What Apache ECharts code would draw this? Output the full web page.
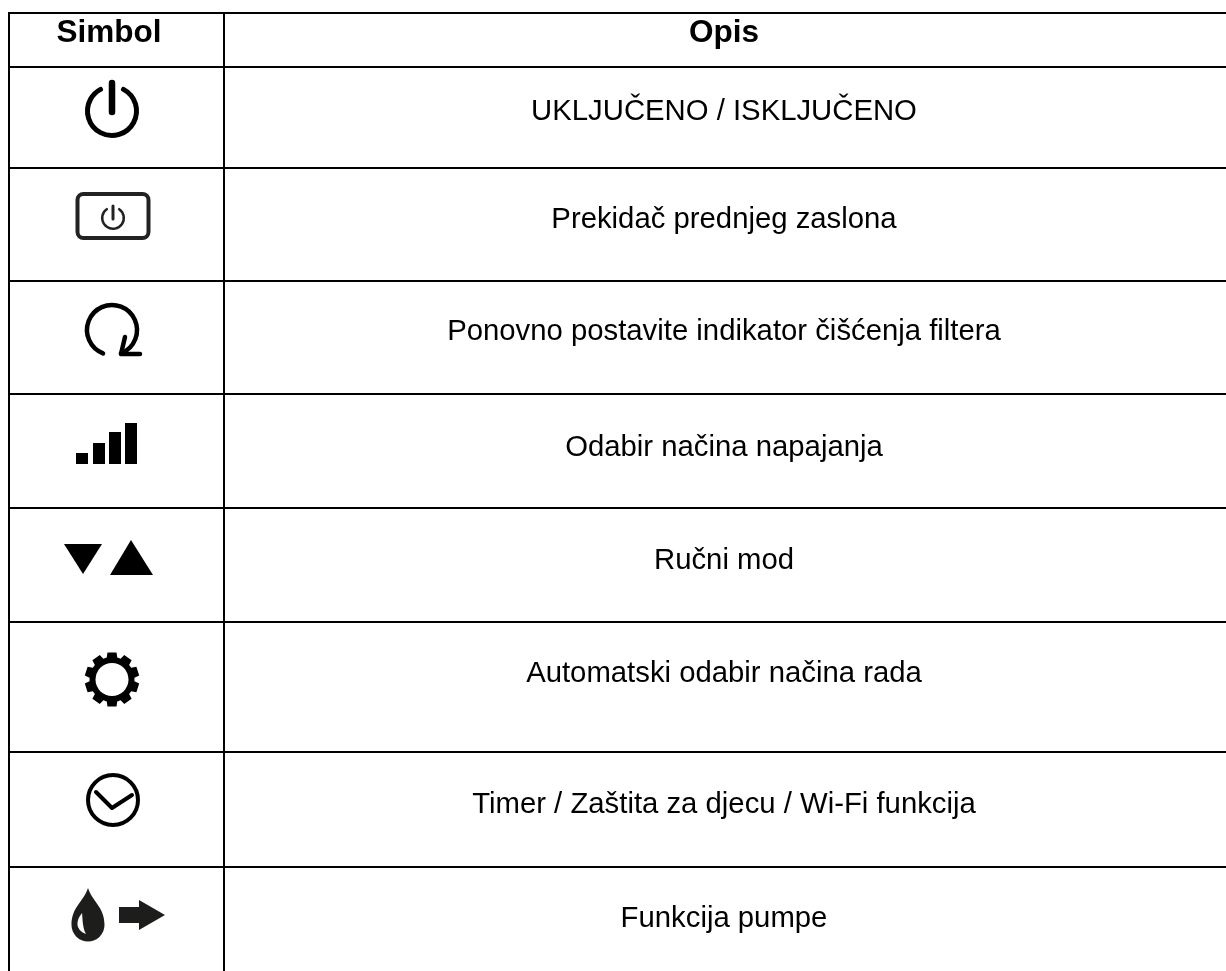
<!DOCTYPE html>
<html>
<head>
<meta charset="utf-8">
<style>
  html, body { margin: 0; padding: 0; background: #fff; }
  #main { width: 1226px; height: 971px; }
</style>
<script src="https://cdn.jsdelivr.net/npm/echarts@6/dist/echarts.min.js"></script>
</head>
<body>
<div id="main"></div>
<script>
// table content
var headers = ['Simbol', 'Opis'];
var symbols = ['power', 'panel', 'reset', 'signal', 'arrows', 'gear', 'clock', 'pump'];
var descriptions = [
  'UKLJUČENO / ISKLJUČENO',
  'Prekidač prednjeg zaslona',
  'Ponovno postavite indikator čišćenja filtera',
  'Odabir načina napajanja',
  'Ručni mod',
  'Automatski odabir načina rada',
  'Timer / Zaštita za djecu / Wi-Fi funkcija',
  'Funkcija pumpe'
];

// table layout, in axis units (one unit is one pixel)
var W = 1226, H = 971;
var ruleY = [13, 67, 168, 281, 394, 508, 622, 752, 867];
var ruleX = [9, 224];
var headerY = 33;
var textY = [112, 220, 332, 448, 561, 674, 805, 919];
var iconPos = [[112, 111], [113, 216], [112, 330], [112, 464], [112, 559], [112, 679.5], [113, 800], [88, 915]];
var colText = [109, 724];
var INK = '#000';
var FONT = '"Liberation Sans", Arial, sans-serif';

function stroke(width, color) {
  return { fill: 'none', stroke: color || INK, lineWidth: width, lineCap: 'round', lineJoin: 'round' };
}
function arc(cx, cy, r, a0, a1, w, color) {
  return {
    type: 'arc',
    shape: { cx: cx, cy: cy, r: r, startAngle: a0 * Math.PI / 180, endAngle: a1 * Math.PI / 180, clockwise: true },
    style: stroke(w, color)
  };
}
function polyline(points, w, color) {
  return { type: 'polyline', shape: { points: points }, style: stroke(w, color) };
}
function poly(points, color) {
  return { type: 'polygon', shape: { points: points }, style: { fill: color || INK } };
}
function gearPoints(n, outer, root) {
  var pts = [];
  for (var i = 0; i < n; i++) {
    var a = -90 + i * 360 / n;
    [[-13.5, root], [-9.5, outer], [9.5, outer], [13.5, root]].forEach(function (p) {
      var t = (a + p[0]) * Math.PI / 180;
      pts.push([Math.cos(t) * p[1], Math.sin(t) * p[1]]);
    });
  }
  return pts;
}

var icons = {
  power: function () {
    return [arc(0, 0, 24.5, -62, 242, 5), polyline([[0, -28], [0, 1]], 6.5)];
  },
  panel: function () {
    return [
      { type: 'rect', shape: { x: -35.5, y: -22, width: 71, height: 44, r: 6 }, style: stroke(4, '#222') },
      arc(0, 2, 10.8, -55, 235, 2.5, '#222'),
      polyline([[0, -10], [0, 3]], 3, '#222')
    ];
  },
  reset: function () {
    return [
      arc(0, 0, 25, 111, 429, 4.5),
      polyline([[13, 7], [9, 24], [28, 24]], 4.5)
    ];
  },
  signal: function () {
    return [[-36, 11], [-19, 21], [-3, 32], [13, 41]].map(function (b) {
      return { type: 'rect', shape: { x: b[0], y: -b[1], width: 12, height: b[1] }, style: { fill: INK } };
    });
  },
  arrows: function () {
    return [
      poly([[-48, -15], [-10, -15], [-29, 15]]),
      poly([[19, -19], [-2, 16], [41, 16]])
    ];
  },
  gear: function () {
    return [
      poly(gearPoints(10, 27.5, 22.5)),
      { type: 'circle', shape: { cx: 0, cy: 0, r: 16.5 }, style: { fill: '#fff' } }
    ];
  },
  clock: function () {
    return [
      { type: 'circle', shape: { cx: 0, cy: 0, r: 25 }, style: stroke(4) },
      polyline([[-17, -8], [-1, 8], [19, -5]], 4)
    ];
  },
  pump: function () {
    var dark = '#1d1d1b';
    return [
      {
        type: 'path',
        shape: {
          pathData: 'M0 -27 C4 -14 16.5 -8 16.5 10 A16.5 16.5 0 0 1 -16.5 10 C-16.5 -8 -4 -14 0 -27 Z',
          layout: 'cover', x: -16.5, y: -27, width: 33, height: 53.5
        },
        style: { fill: dark }
      },
      {
        type: 'path',
        shape: {
          pathData: 'M-5.5 -2 C-10 4 -13 14 -2 19 C-5 13 -5 5 -5.5 -2 Z',
          layout: 'cover', x: -10.5, y: -2, width: 8.5, height: 21
        },
        style: { fill: '#fff' }
      },
      poly([[31, -8], [51, -8], [51, -15], [77, 0], [51, 15], [51, 8], [31, 8]], dark)
    ];
  }
};

var myChart = echarts.init(document.getElementById('main'));

var hRules = ruleY.map(function (y) { return [y]; });
var vRules = ruleX.map(function (x) { return [x]; });

function cellText(x, y, text, font, weight) {
  return {
    type: 'text',
    x: x,
    y: y,
    style: {
      text: text, fill: INK, font: weight + ' ' + font + 'px ' + FONT,
      textAlign: 'center', textVerticalAlign: 'middle'
    }
  };
}

myChart.setOption({
  animation: false,
  backgroundColor: '#fff',
  grid: { left: 0, right: 0, top: 0, bottom: 0 },
  xAxis: { type: 'value', min: 0, max: W, show: false },
  yAxis: { type: 'value', min: 0, max: H, inverse: true, show: false },
  series: [
    {
      // horizontal rules
      type: 'custom', silent: true, clip: false, data: hRules,
      renderItem: function (params, api) {
        var a = api.coord([ruleX[0] - 1, api.value(0)]), b = api.coord([W, api.value(0)]);
        return { type: 'line', shape: { x1: a[0], y1: a[1], x2: b[0], y2: b[1] }, style: { stroke: INK, lineWidth: 2 } };
      }
    },
    {
      // vertical rules
      type: 'custom', silent: true, clip: false, data: vRules,
      renderItem: function (params, api) {
        var a = api.coord([api.value(0), ruleY[0] - 1]), b = api.coord([api.value(0), H]);
        return { type: 'line', shape: { x1: a[0], y1: a[1], x2: b[0], y2: b[1] }, style: { stroke: INK, lineWidth: 2 } };
      }
    },
    {
      // header cells
      type: 'custom', silent: true, clip: false, data: headers.map(function (h, i) { return [i]; }),
      renderItem: function (params, api) {
        var i = api.value(0), p = api.coord([colText[i], headerY]);
        return cellText(p[0], p[1], headers[i], 31.5, 'bold');
      }
    },
    {
      // description column
      type: 'custom', silent: true, clip: false, data: descriptions.map(function (d, i) { return [i]; }),
      renderItem: function (params, api) {
        var i = api.value(0), p = api.coord([colText[1], textY[i]]);
        return cellText(p[0], p[1], descriptions[i], 29.3, 'normal');
      }
    },
    {
      // symbol column
      type: 'custom', silent: true, clip: false, data: symbols.map(function (s, i) { return [i]; }),
      renderItem: function (params, api) {
        var i = api.value(0), p = api.coord(iconPos[i]);
        return { type: 'group', x: p[0], y: p[1], children: icons[symbols[i]]() };
      }
    }
  ]
});
</script>
</body>
</html>
